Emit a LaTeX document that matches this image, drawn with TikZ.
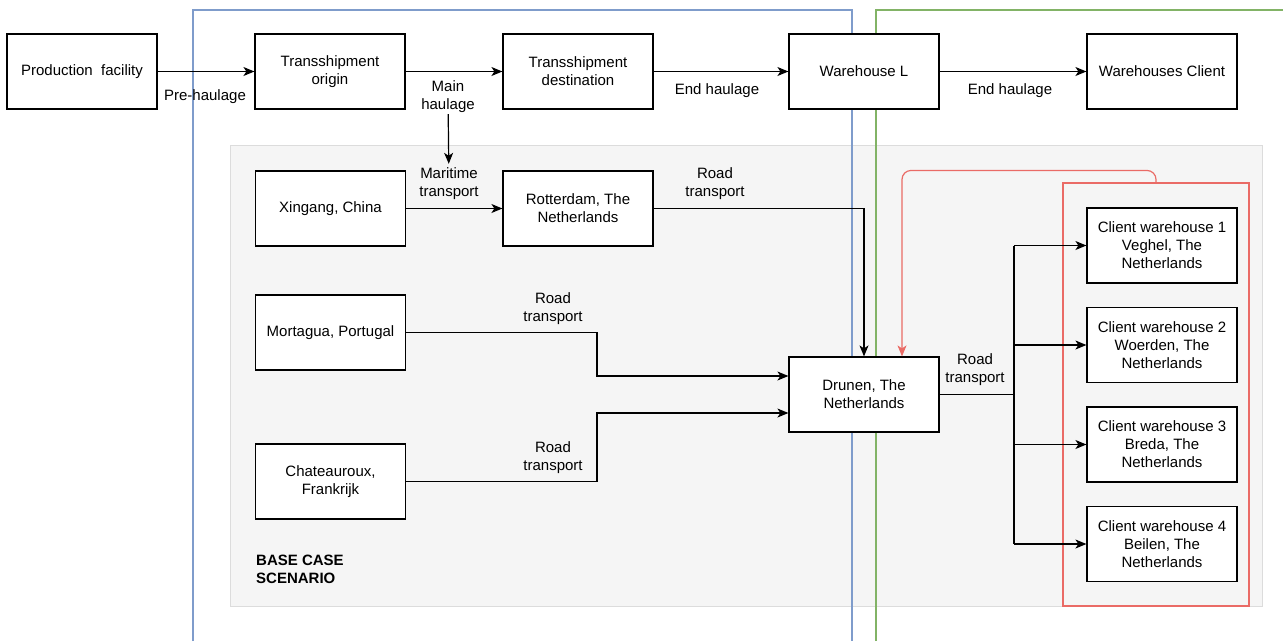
\documentclass[tikz,border=0pt]{standalone}
\usepackage{fontspec}
\setmainfont{Liberation Sans}
\usetikzlibrary{arrows.meta,calc}
\definecolor{panelfill}{HTML}{F5F5F5}
\definecolor{panelline}{HTML}{DCDCDC}
\definecolor{blueline}{HTML}{7F9CCB}
\definecolor{greenline}{HTML}{82B366}
\definecolor{redline}{HTML}{EA6B66}
\tikzset{
  every node/.style={font=\fontsize{15}{18}\selectfont, inner sep=0pt},
  stepbox/.style={draw=black, fill=white, line width=1.2pt, minimum width=150pt,
    minimum height=75pt, align=center},
  lbl/.style={align=center},
  tip/.style={-{Stealth[length=11pt,width=9pt,inset=3pt]}},
  arr/.style={draw=black, line width=1.2pt, tip},
  redarr/.style={draw=redline, line width=1.2pt, rounded corners=9pt, tip},
  zone/.style={line width=1.2pt},
}
\begin{document}
\begin{tikzpicture}[x=1pt,y=-1pt]
\useasboundingbox (0,0) rectangle (1283,641);
\fill[white] (0,0) rectangle (1283,641);

% grey scenario panel
\draw[fill=panelfill, draw=panelline, line width=1pt] (230,145) rectangle (1262,606);

% process zones (open towards the page edges)
\draw[zone, blueline] (193,641) -- (193,10) -- (852,10) -- (852,641);
\draw[zone, greenline] (876,641) -- (876,10) -- (1283,10);

% client group
\node[draw=redline, line width=1.1pt, minimum width=186pt, minimum height=423pt] (grp) at (1156,394.5) {};

% generic chain
\node[stepbox] (pf) at (82,71.5) {Production\ \ facility};
\node[stepbox] (to) at (330,71.5) {Transshipment\\origin};
\node[stepbox] (td) at (578,71.5) {Transshipment\\destination};
\node[stepbox] (wl) at (864,71.5) {Warehouse L};
\node[stepbox] (wc) at (1162,71.5) {Warehouses Client};

% base case nodes
\node[stepbox] (xin) at (330.5,208.5) {Xingang, China};
\node[stepbox] (rot) at (578,208.5) {Rotterdam, The\\Netherlands};
\node[stepbox] (mort) at (330.5,332.5) {Mortagua, Portugal};
\node[stepbox] (chat) at (330.5,481.5) {Chateauroux,\\Frankrijk};
\node[stepbox] (dru) at (864,394.5) {Drunen, The\\Netherlands};
\node[stepbox] (cw1) at (1162,245.5) {Client warehouse 1\\Veghel, The\\Netherlands};
\node[stepbox] (cw2) at (1162,345) {Client warehouse 2\\Woerden, The\\Netherlands};
\node[stepbox] (cw3) at (1162,444.5) {Client warehouse 3\\Breda, The\\Netherlands};
\node[stepbox] (cw4) at (1162,544) {Client warehouse 4\\Beilen, The\\Netherlands};

% connector labels
\node[lbl] (l1) at (205,97) {Pre-haulage};
\node[lbl] (l2) at (448,97) {Main\\haulage};
\node[lbl] (l3) at (717,91) {End haulage};
\node[lbl] (l4) at (1010,91) {End haulage};
\node[lbl] (l5) at (449,184) {Maritime\\transport};
\node[lbl] (l6) at (715,184) {Road\\transport};
\node[lbl] (l7) at (553,309) {Road\\transport};
\node[lbl] (l8) at (553,458) {Road\\transport};
\node[lbl] (l9) at (975,370) {Road\\transport};

\node[align=left, anchor=west, font=\fontsize{15}{18}\selectfont\bfseries] (bcs) at (256,569.5) {BASE CASE\\SCENARIO};

% generic chain connectors
\draw[arr] (pf) -- (to);
\draw[arr] (to) -- (td);
\draw[arr] (td) -- (wl);
\draw[arr] (wl) -- (wc);
\draw[arr, shorten <=1pt, shorten >=4pt] (l2) -- (l5);

% base case connectors
\draw[arr] (xin) -- (rot);
\draw[arr] (rot) -| (dru);
\draw[arr] (mort.east) -- (597,332.5) |- ([yshift=18.5pt]dru.west);
\draw[arr] (chat.east) -- (597,481.5) |- ([yshift=-18.5pt]dru.west);
\coordinate (split) at (1014,394.5);
\draw[black, line width=1.2pt] (dru.east) -- (split);
\draw[black, line width=1.2pt] (1014,245.5) -- (1014,544);
\draw[arr] (1014,245.5) -- (cw1.west);
\draw[arr] (1014,345) -- (cw2.west);
\draw[arr] (1014,444.5) -- (cw3.west);
\draw[arr] (1014,544) -- (cw4.west);
\draw[redarr] (grp.north) -- ++(0,12pt) -| ([xshift=38pt]dru.north);
\end{tikzpicture}
\end{document}
